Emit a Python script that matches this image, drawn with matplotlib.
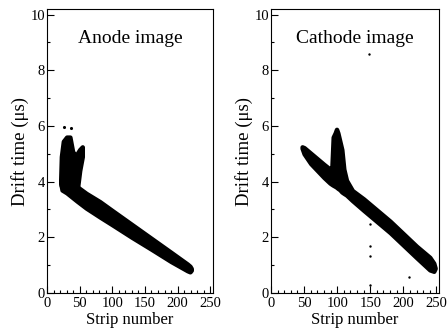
import matplotlib
matplotlib.use('Agg')
import matplotlib.pyplot as plt
import numpy as np
from matplotlib.ticker import MultipleLocator

plt.rcParams['font.family'] = ['Liberation Serif', 'DejaVu Serif']

# anode image: main diagonal band (strip, lower / upper drift time)
an_x = [21, 23, 30, 46, 60, 81, 100, 130, 160, 190, 215, 219, 221]
an_lo = [3.95, 3.7, 3.6, 3.3, 3.05, 2.73, 2.45, 2.0, 1.57, 1.13, 0.8, 0.76, 0.82]
an_hi = [4.05, 3.95, 3.88, 3.82, 3.58, 3.28, 2.96, 2.46, 1.96, 1.46, 1.04, 0.96, 0.88]

# anode image: blob + branch at low strips
blob_x = [21, 22, 25, 30, 35, 39, 42, 46, 50, 54]
blob_lo = [3.95, 3.85, 3.8, 3.75, 3.7, 3.65, 3.65, 3.65, 4.4, 4.9]
blob_hi = [4.1, 4.9, 5.45, 5.6, 5.6, 5.1, 4.95, 5.0, 5.15, 5.25]

an_dots_x = [26, 37]
an_dots_y = [5.97, 5.92]

# cathode image band (with spike near strip 100)
ca_x = [47, 50, 60, 70, 80, 89, 92, 94, 97, 99, 101, 104, 107, 110, 114, 123,
        140, 160, 180, 200, 220, 240, 246, 248]
ca_hi = [5.25, 5.22, 5.02, 4.82, 4.62, 4.45, 4.5, 5.6, 5.75, 5.88, 5.75, 5.45, 5.15,
         4.45, 4.05, 3.68, 3.38, 2.98, 2.58, 2.13, 1.68, 1.28, 1.07, 0.9]
ca_lo = [5.2, 5.0, 4.65, 4.4, 4.15, 3.95, 3.9, 3.87, 3.83, 3.8, 3.76, 3.71, 3.63,
         3.58, 3.52, 3.32, 2.97, 2.57, 2.17, 1.72, 1.27, 0.83, 0.78, 0.88]

ca_dots_x = [150, 150, 150, 150, 209, 148]
ca_dots_y = [2.48, 1.69, 1.33, 0.29, 0.58, 8.6]

fig = plt.figure(figsize=(4.48, 3.34), dpi=100)
ax1 = fig.add_axes([0.105, 0.1228, 0.37, 0.85])
ax2 = fig.add_axes([0.605, 0.1228, 0.375, 0.85])

ax1.fill_between(an_x, an_lo, an_hi, color='black', lw=3.2, joinstyle='round')
ax1.fill_between(blob_x, blob_lo, blob_hi, color='black', lw=3.2, joinstyle='round')
ax1.scatter(an_dots_x, an_dots_y, s=5, color='black', lw=0)

ax2.fill_between(ca_x, ca_lo, ca_hi, color='black', lw=3.2, joinstyle='round')
ax2.scatter(ca_dots_x, ca_dots_y, s=3, color='black', lw=0)

for ax, title in [(ax1, 'Anode image'), (ax2, 'Cathode image')]:
    ax.set_xlim(0, 254)
    ax.set_ylim(0, 10.2)
    ax.xaxis.set_major_locator(MultipleLocator(50))
    ax.xaxis.set_minor_locator(MultipleLocator(10))
    ax.yaxis.set_major_locator(MultipleLocator(2))
    ax.yaxis.set_minor_locator(MultipleLocator(1))
    ax.tick_params(which='both', direction='in', top=False, right=False,
                   labelsize=10.5)
    ax.tick_params(axis='y', pad=1.5)
    ax.tick_params(axis='x', pad=3)
    ax.tick_params(which='major', length=5, width=0.8)
    ax.tick_params(which='minor', length=2.5, width=0.8)
    for s in ax.spines.values():
        s.set_linewidth(0.8)
    ax.set_xlabel('Strip number', fontsize=12, labelpad=1)
    ax.set_ylabel('Drift time (\u03bcs)', fontsize=13.5, labelpad=1)
    ax.text(0.5, 0.895, title, transform=ax.transAxes, ha='center',
            va='center', fontsize=14)

fig.savefig('out.png', dpi=100)
